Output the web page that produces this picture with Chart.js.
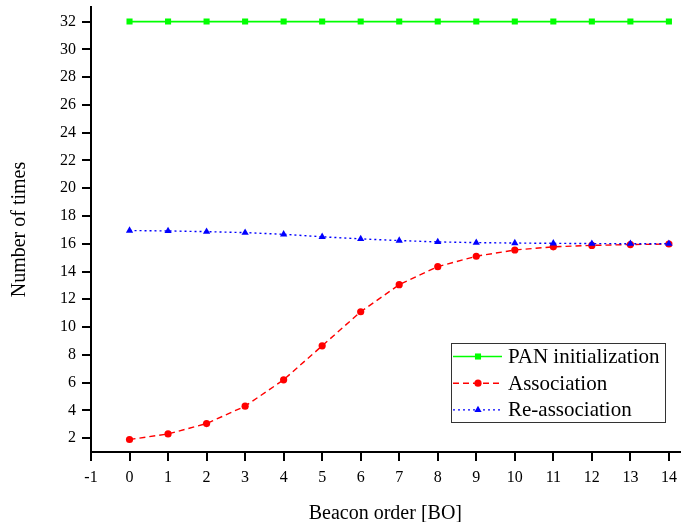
<!DOCTYPE html>
<html>
<head>
<meta charset="utf-8">
<title>Number of times vs beacon order</title>
<script src="https://cdn.jsdelivr.net/npm/chart.js@4/dist/chart.umd.min.js"></script>
<style>
  html, body { margin: 0; padding: 0; background: #fff; }
  #wrap { width: 684px; height: 522px; }
</style>
</head>
<body>
<div id="wrap"><canvas id="boChart" width="684" height="522"></canvas></div>
<script>
// Beacon order on the x axis, counts per series
const beaconOrders = [0, 1, 2, 3, 4, 5, 6, 7, 8, 9, 10, 11, 12, 13, 14];
const panInit = [32, 32, 32, 32, 32, 32, 32, 32, 32, 32, 32, 32, 32, 32, 32];
const association = [1.9, 2.3, 3.05, 4.3, 6.2, 8.65, 11.1, 13.05, 14.35, 15.1, 15.55, 15.78, 15.88, 15.94, 15.98];
const reassociation = [16.95, 16.92, 16.87, 16.8, 16.68, 16.5, 16.35, 16.23, 16.13, 16.08, 16.05, 16.03, 16.01, 16.0, 16.0];

const xTicks = [-1, 0, 1, 2, 3, 4, 5, 6, 7, 8, 9, 10, 11, 12, 13, 14];
const yTicks = [2, 4, 6, 8, 10, 12, 14, 16, 18, 20, 22, 24, 26, 28, 30, 32];

const SERIF = '"Liberation Serif", "Times New Roman", serif';

function toPoints(values) {
  return beaconOrders.map((bo, i) => ({ x: bo, y: values[i] }));
}

// legend box drawn inside the plot, lower right
const boxLegend = {
  id: 'boxLegend',
  afterDraw(chart) {
    const ctx = chart.ctx;
    const left = 451, top = 343, width = 214, height = 79;
    const rowH = 26.7;
    ctx.save();
    ctx.fillStyle = '#fff';
    ctx.fillRect(left, top, width, height);
    ctx.strokeStyle = '#333';
    ctx.lineWidth = 1;
    ctx.strokeRect(left + 0.5, top + 0.5, width, height);

    chart.data.datasets.forEach((ds, i) => {
      const y = top + 13.5 + i * rowH;
      ctx.strokeStyle = ds.borderColor;
      ctx.lineWidth = ds.borderWidth;
      ctx.setLineDash(ds.borderDash || []);
      ctx.beginPath();
      ctx.moveTo(left + 2, y);
      ctx.lineTo(left + 51, y);
      ctx.stroke();
      ctx.setLineDash([]);
      ctx.fillStyle = ds.pointBackgroundColor;
      Chart.helpers.drawPoint(ctx, {
        pointStyle: ds.pointStyle,
        radius: ds.pointRadius,
        rotation: 0,
        borderWidth: 0
      }, left + 27, y);

      ctx.fillStyle = '#000';
      ctx.font = '21px ' + SERIF;
      ctx.textBaseline = 'middle';
      ctx.textAlign = 'left';
      ctx.fillText(ds.label, left + 57, y + 1);
    });
    ctx.restore();
  }
};

const ctx = document.getElementById('boChart').getContext('2d');

new Chart(ctx, {
  type: 'line',
  data: {
    datasets: [
      {
        label: 'PAN initialization',
        data: toPoints(panInit),
        borderColor: '#00ff00',
        backgroundColor: '#00ff00',
        pointBackgroundColor: '#00ff00',
        pointBorderWidth: 0,
        pointStyle: 'rect',
        pointRadius: 4.3,
        borderWidth: 1.6,
        tension: 0,
        order: 2
      },
      {
        label: 'Association',
        data: toPoints(association),
        borderColor: '#ff0000',
        backgroundColor: '#ff0000',
        pointBackgroundColor: '#ff0000',
        pointBorderWidth: 0,
        pointStyle: 'circle',
        pointRadius: 3.6,
        borderWidth: 1.4,
        borderDash: [6, 4],
        tension: 0,
        order: 1
      },
      {
        label: 'Re-association',
        data: toPoints(reassociation),
        borderColor: '#0000ff',
        backgroundColor: '#0000ff',
        pointBackgroundColor: '#0000ff',
        pointBorderWidth: 0,
        pointStyle: 'triangle',
        pointRadius: 4.2,
        borderWidth: 1.4,
        borderDash: [2, 3],
        tension: 0,
        order: 0
      }
    ]
  },
  options: {
    responsive: false,
    animation: false,
    events: [],
    layout: { padding: { top: 7, right: 0, left: 0, bottom: 0 } },
    plugins: {
      legend: { display: false },
      tooltip: { enabled: false }
    },
    scales: {
      x: {
        type: 'linear',
        min: -1,
        max: 14.28,
        afterBuildTicks(scale) {
          scale.ticks = xTicks.map(v => ({ value: v }));
        },
        afterFit(scale) {
          scale.height = 70;
          scale.paddingLeft = 0;
          scale.paddingRight = 0;
        },
        border: { display: true, color: '#000', width: 2 },
        grid: {
          drawOnChartArea: false,
          drawTicks: true,
          tickLength: 9,
          color: '#000',
          lineWidth: 2
        },
        ticks: {
          color: '#000',
          padding: 7,
          maxRotation: 0,
          autoSkip: false,
          font: { family: SERIF, size: 16 }
        },
        title: {
          display: true,
          text: 'Beacon order [BO]',
          color: '#000',
          padding: { top: 0, bottom: 0 },
          font: { family: SERIF, size: 20, lineHeight: 0.8 }
        }
      },
      y: {
        type: 'linear',
        min: 1,
        max: 33.05,
        afterBuildTicks(scale) {
          scale.ticks = yTicks.map(v => ({ value: v }));
        },
        afterFit(scale) {
          scale.width = 91;
          scale.paddingTop = 0;
          scale.paddingBottom = 0;
        },
        border: { display: true, color: '#000', width: 2 },
        grid: {
          drawOnChartArea: false,
          drawTicks: true,
          tickLength: 9,
          color: '#000',
          lineWidth: 2
        },
        ticks: {
          color: '#000',
          padding: 6,
          autoSkip: false,
          font: { family: SERIF, size: 16 }
        },
        title: {
          display: true,
          text: 'Number of times',
          color: '#000',
          padding: { top: 10, bottom: 0 },
          font: { family: SERIF, size: 20, lineHeight: 1 }
        }
      }
    }
  },
  plugins: [boxLegend]
});
</script>
</body>
</html>
